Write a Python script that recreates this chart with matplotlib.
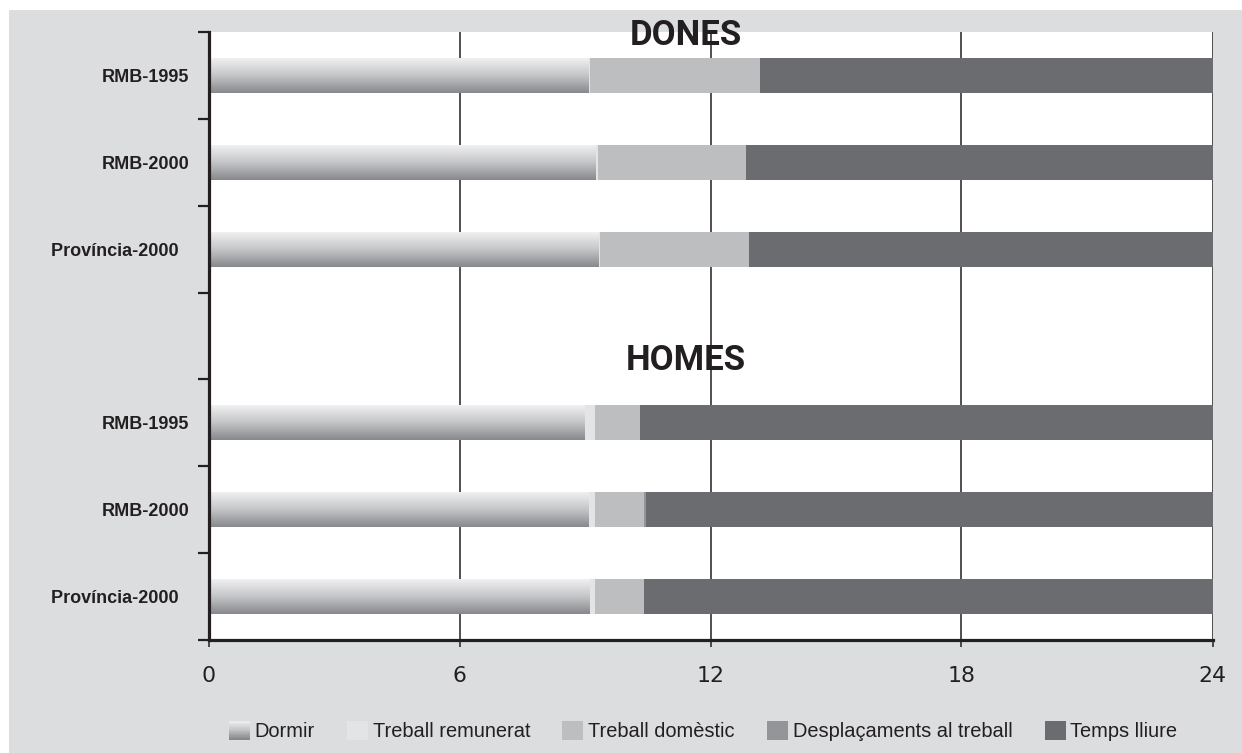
import numpy as np
import matplotlib
matplotlib.use("Agg")
import matplotlib.pyplot as plt
from matplotlib.patches import Rectangle
from matplotlib.colors import LinearSegmentedColormap
from matplotlib.legend_handler import HandlerBase

# ---- data ----
groups = ["DONES", "HOMES"]
categories = ["RMB-1995", "RMB-2000", "Província-2000"]
series = ["Dormir", "Treball remunerat", "Treball domèstic",
          "Desplaçaments al treball", "Temps lliure"]
dones_dormir = [9.06, 9.25, 9.31]
dones_remunerat = [0.06, 0.05, 0.04]
dones_domestic = [4.07, 3.56, 3.58]
dones_desplac = [0.0, 0.0, 0.0]
dones_lliure = [10.81, 11.14, 11.07]
homes_dormir = [8.97, 9.07, 9.09]
homes_remunerat = [0.28, 0.18, 0.16]
homes_domestic = [1.07, 1.17, 1.17]
homes_desplac = [0.0, 0.05, 0.0]
homes_lliure = [13.68, 13.53, 13.58]
xticks = [0, 6, 12, 18, 24]

# ---- styles ----
BG = "#dcdddf"
DARK = "#231f20"
colors = {"Treball remunerat": "#e3e4e6", "Treball domèstic": "#bdbec0",
          "Desplaçaments al treball": "#939598", "Temps lliure": "#6b6c70"}
grad_cmap = LinearSegmentedColormap.from_list("g", ["#f0f0f1", "#c4c5c7", "#88898d"])

W, H = 1242, 753
fig = plt.figure(figsize=(W / 100, H / 100), dpi=100, facecolor="white")
fig.patches.append(Rectangle((9 / W, 0), 1, (H - 10) / H, transform=fig.transFigure,
                             facecolor=BG, edgecolor="none", zorder=-10))
ax = fig.add_axes([208.5 / W, (H - 640) / H, (1212.5 - 208.5) / W, (640 - 32) / H])
ax.set_facecolor("white")

# y positions: 3 bars, one empty slot, 3 bars
ypos_d = [0, 1, 2]
ypos_h = [4, 5, 6]
bh = 0.40

def draw_group(ypos, dormir, remun, domest, despl, lliure):
    left = np.zeros(len(ypos))
    bars = ax.barh(ypos, dormir, height=bh, left=left, color="#bbbbbb", edgecolor="none", zorder=2)
    for b in bars:
        x0, y0, w, h = b.get_x(), b.get_y(), b.get_width(), b.get_height()
        grad = np.linspace(0, 1, 64).reshape(-1, 1)
        im = ax.imshow(grad, cmap=grad_cmap, aspect="auto", origin="upper",
                       extent=(x0, x0 + w, y0 + h, y0), zorder=2.5, interpolation="bilinear")
        im.set_clip_path(b)
    left = left + np.array(dormir)
    for name, vals in [("Treball remunerat", remun), ("Treball domèstic", domest),
                       ("Desplaçaments al treball", despl), ("Temps lliure", lliure)]:
        ax.barh(ypos, vals, height=bh, left=left, color=colors[name], edgecolor="none", zorder=2)
        left = left + np.array(vals)

draw_group(ypos_d, dones_dormir, dones_remunerat, dones_domestic, dones_desplac, dones_lliure)
draw_group(ypos_h, homes_dormir, homes_remunerat, homes_domestic, homes_desplac, homes_lliure)

ax.set_xlim(0, 24)
ax.set_ylim(6.5, -0.5)

# ticks
ax.set_xticks(xticks)
ax.set_xticklabels([str(v) for v in xticks], fontsize=15.8, family="DejaVu Sans", color=DARK)
ax.tick_params(axis="x", direction="out", length=5, width=1.1, color=DARK, pad=14)
ax.set_yticks(np.arange(-0.5, 7.0, 1.0))
ax.set_yticklabels([])
ax.tick_params(axis="y", which="major", direction="out", length=8, width=1.6, color=DARK)
ax.set_yticks(ypos_d + ypos_h, minor=True)
ylabels = [categories[0], categories[1], categories[2] + "  ",
           categories[0], categories[1], categories[2] + "  "]
ax.set_yticklabels(ylabels, minor=True, fontsize=13, fontweight="bold", family="Liberation Sans", color=DARK)
ax.tick_params(axis="y", which="minor", length=0, pad=14)

ax.grid(axis="x", color=DARK, linewidth=1.1)
ax.set_axisbelow(True)
for s in ["top", "right"]:
    ax.spines[s].set_visible(False)
ax.spines["left"].set_linewidth(2.3)
ax.spines["bottom"].set_linewidth(2.3)
ax.spines["left"].set_color(DARK)
ax.spines["bottom"].set_color(DARK)
ax.spines["left"].set_zorder(5)
ax.spines["bottom"].set_zorder(5)

# group titles
ax.text(11.4, -0.35, groups[0], ha="center", va="baseline", fontsize=25,
        fontweight="bold", family="Roboto", color=DARK, zorder=6)
ax.text(11.42, 3.39, groups[1], ha="center", va="baseline", fontsize=25,
        fontweight="bold", family="Roboto", color=DARK, zorder=6)

# legend
class GradHandler(HandlerBase):
    def create_artists(self, legend, orig_handle, xdescent, ydescent, width, height, fontsize, trans):
        n = 24
        arts = []
        for i in range(n):
            c = grad_cmap(i / (n - 1))
            r = Rectangle((-xdescent, -ydescent + height * (1 - (i + 1) / n)), width, height / n + 0.3,
                          facecolor=c, edgecolor="none", transform=trans)
            arts.append(r)
        return arts

handles = [Rectangle((0, 0), 1, 1, label=series[0])]
for name in series[1:]:
    handles.append(Rectangle((0, 0), 1, 1, facecolor=colors[name], edgecolor="none", label=name))
fig.legend(handles=handles, labels=series, loc="center", bbox_to_anchor=(703 / W, (H - 731) / H),
           ncol=5, frameon=False, prop={"family": "Liberation Sans", "size": 14.4},
           handlelength=1.05, handleheight=1.05, handletextpad=0.25, columnspacing=1.6,
           handler_map={handles[0]: GradHandler()}, labelcolor=DARK)

fig.savefig("out.png", dpi=100, facecolor="white")
